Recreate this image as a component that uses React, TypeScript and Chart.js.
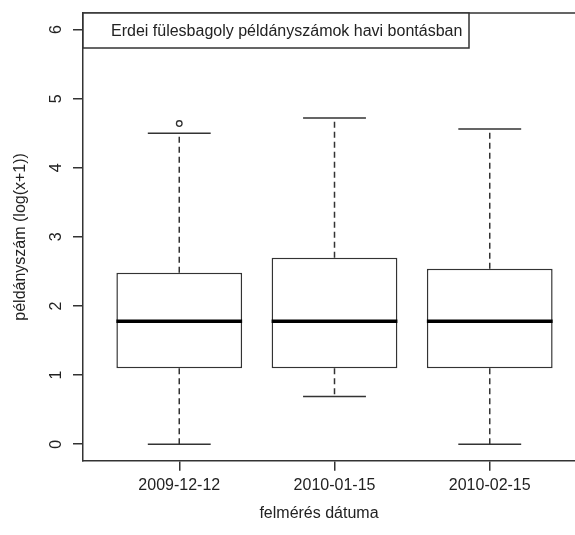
import React, { useEffect, useRef } from "react";
import { Chart, registerables } from "chart.js";

Chart.register(...registerables);

const categories = ["2009-12-12", "2010-01-15", "2010-02-15"];
const whiskerLow = [0, 0.69, 0];
const q1 = [1.1, 1.1, 1.1];
const median = [1.78, 1.78, 1.78];
const q3 = [2.48, 2.7, 2.54];
const whiskerHigh = [4.5, 4.72, 4.56];
const outlierGroup = [1];
const outlierValue = [4.64];
const yTicks = [0, 1, 2, 3, 4, 5, 6];
const yMin = -0.24;
const yMax = 6.24;
const legendText = "Erdei fülesbagoly példányszámok havi bontásban";
const xTitle = "felmérés dátuma";
const yTitle = "példányszám (log(x+1))";

const FONT = '"Liberation Sans", Arial, sans-serif';
const LINE = "#333333";
const TEXT = "#222222";

const boxPlugin = {
  id: "rbox",
  afterDatasetsDraw(chart: any) {
    const ctx = chart.ctx;
    const xs = chart.scales.x;
    const ys = chart.scales.y;
    const meta = chart.getDatasetMeta(0);
    ctx.save();
    categories.forEach((_, i) => {
      const bar = meta.data[i];
      const w = bar.width;
      const cx = xs.getPixelForValue(i + 1);
      const half = w / 2;
      const cap = w / 4;
      const pLow = ys.getPixelForValue(whiskerLow[i]);
      const pQ1 = ys.getPixelForValue(q1[i]);
      const pMed = ys.getPixelForValue(median[i]);
      const pQ3 = ys.getPixelForValue(q3[i]);
      const pHigh = ys.getPixelForValue(whiskerHigh[i]);
      ctx.strokeStyle = LINE;
      ctx.lineWidth = 1.5;
      ctx.setLineDash([6, 4]);
      ctx.beginPath();
      ctx.moveTo(cx, pQ3);
      ctx.lineTo(cx, pHigh);
      ctx.moveTo(cx, pQ1);
      ctx.lineTo(cx, pLow);
      ctx.stroke();
      ctx.setLineDash([]);
      ctx.beginPath();
      ctx.moveTo(cx - cap, pHigh);
      ctx.lineTo(cx + cap, pHigh);
      ctx.moveTo(cx - cap, pLow);
      ctx.lineTo(cx + cap, pLow);
      ctx.stroke();
      ctx.strokeStyle = "#000";
      ctx.lineWidth = 3.5;
      ctx.beginPath();
      ctx.moveTo(cx - half, pMed);
      ctx.lineTo(cx + half, pMed);
      ctx.stroke();
    });
    ctx.restore();
  },
  afterDraw(chart: any) {
    const ctx = chart.ctx;
    const a = chart.chartArea;
    const ys = chart.scales.y;
    ctx.save();
    ctx.strokeStyle = LINE;
    ctx.lineWidth = 1.5;
    ctx.beginPath();
    ctx.moveTo(a.left, a.top);
    ctx.lineTo(a.right, a.top);
    ctx.lineTo(a.right, a.bottom);
    ctx.stroke();
    ctx.fillStyle = "#fff";
    ctx.fillRect(a.left, a.top, 386, 35);
    ctx.strokeRect(a.left, a.top, 386, 35);
    ctx.fillStyle = TEXT;
    ctx.font = `16px ${FONT}`;
    ctx.textAlign = "left";
    ctx.textBaseline = "middle";
    ctx.fillText(legendText, a.left + 28, a.top + 18.5);
    ctx.textAlign = "center";
    ys.ticks.forEach((t: any) => {
      const py = ys.getPixelForValue(t.value);
      ctx.save();
      ctx.translate(a.left - 26, py);
      ctx.rotate(-Math.PI / 2);
      ctx.fillText(String(t.value), 0, 0);
      ctx.restore();
    });
    ctx.save();
    ctx.translate(21, (a.top + a.bottom) / 2);
    ctx.rotate(-Math.PI / 2);
    ctx.fillText(yTitle, 0, 0);
    ctx.restore();
    ctx.fillText(xTitle, 319, 514);
    ctx.restore();
  },
};

export default function App() {
  const ref = useRef<HTMLCanvasElement | null>(null);
  useEffect(() => {
    if (!ref.current) return;
    const chart = new Chart(ref.current, {
      type: "bar",
      data: {
        datasets: [
          {
            type: "bar",
            data: categories.map((_, i) => ({ x: i + 1, y: [q1[i], q3[i]] })) as any,
            backgroundColor: "#ffffff",
            borderColor: LINE,
            borderWidth: 1.5,
            borderSkipped: false,
            barPercentage: 1,
            categoryPercentage: 0.81,
          },
          {
            type: "scatter",
            data: outlierGroup.map((g, i) => ({ x: g, y: outlierValue[i] })) as any,
            pointRadius: 2.8,
            pointBorderWidth: 1.3,
            borderColor: LINE,
            backgroundColor: "#ffffff",
          },
        ],
      },
      options: {
        animation: false,
        responsive: false,
        devicePixelRatio: 1,
        layout: { padding: { left: 73, top: 13, right: 14, bottom: 35 } },
        plugins: { legend: { display: false }, tooltip: { enabled: false } },
        scales: {
          x: {
            type: "linear",
            min: 0.38,
            max: 3.62,
            offset: false,
            afterBuildTicks: (s: any) => {
              s.ticks = categories.map((_, i) => ({ value: i + 1 }));
            },
            ticks: {
              callback: (v: any) => categories[Number(v) - 1] ?? "",
              font: { family: FONT, size: 16 },
              color: TEXT,
              padding: 5,
              maxRotation: 0,
              autoSkip: false,
            },
            grid: {
              offset: false,
              drawOnChartArea: false,
              drawTicks: true,
              tickLength: 10,
              color: LINE,
              lineWidth: 1.5,
            },
            border: { display: true, color: LINE, width: 1.5 },
          },
          y: {
            type: "linear",
            min: yMin,
            max: yMax,
            afterBuildTicks: (s: any) => {
              s.ticks = yTicks.map((v) => ({ value: v }));
            },
            ticks: { display: false },
            grid: {
              drawOnChartArea: false,
              drawTicks: true,
              tickLength: 10,
              color: LINE,
              lineWidth: 1.5,
            },
            border: { display: true, color: LINE, width: 1.5 },
          },
        },
      },
      plugins: [boxPlugin],
    });
    return () => chart.destroy();
  }, []);
  return (
    <div
      style={{
        position: "fixed",
        left: 0,
        top: 0,
        width: 575,
        height: 535,
        overflow: "hidden",
        background: "#fff",
      }}
    >
      <canvas ref={ref} width={600} height={535} style={{ width: 600, height: 535 }} />
    </div>
  );
}
